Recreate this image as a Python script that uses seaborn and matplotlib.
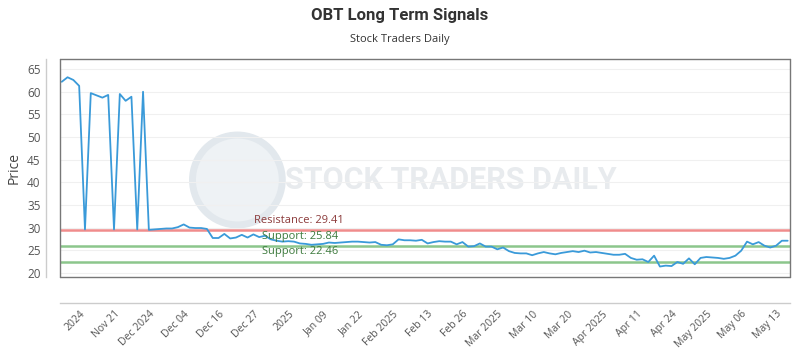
import numpy as np
import pandas as pd
import matplotlib
matplotlib.use("Agg")
import matplotlib.pyplot as plt
from matplotlib.patches import Ellipse
import seaborn as sns

# ---- data ----
prices = [
    62.2, 63.2, 62.6, 61.3, 29.6, 59.7, 59.2, 58.7, 59.3, 29.6,
    59.5, 58.0, 58.9, 29.6, 60.0, 29.5, 29.6, 29.7, 29.8, 29.8,
    30.1, 30.7, 30.0, 29.9, 29.9, 29.7, 27.7, 27.7, 28.6, 27.6,
    27.8, 28.4, 27.8, 28.5, 27.9, 28.2, 27.4, 27.1, 26.9, 27.0,
    26.9, 26.5, 26.4, 26.2, 26.3, 26.4, 26.7, 26.6, 26.7, 26.8,
    26.9, 26.9, 26.8, 26.7, 26.8, 26.2, 26.1, 26.3, 27.4, 27.2,
    27.2, 27.1, 27.3, 26.5, 26.8, 27.0, 26.9, 26.9, 26.3, 26.8,
    25.8, 25.9, 26.5, 25.8, 25.8, 25.2, 25.6, 24.8, 24.4, 24.3,
    24.3, 23.9, 24.3, 24.6, 24.3, 24.1, 24.4, 24.6, 24.8, 24.6,
    24.9, 24.5, 24.6, 24.4, 24.2, 24.0, 24.0, 24.2, 23.3, 22.9,
    23.0, 22.4, 23.8, 21.4, 21.6, 21.5, 22.4, 22.0, 23.2, 21.9,
    23.3, 23.5, 23.4, 23.3, 23.1, 23.3, 23.8, 24.9, 26.9, 26.3,
    26.8, 26.0, 25.6, 26.0, 27.1, 27.1,
]
tick_labels = ["2024", "Nov 21", "Dec 2024", "Dec 04", "Dec 16", "Dec 27",
               "2025", "Jan 09", "Jan 22", "Feb 2025", "Feb 13", "Feb 26",
               "Mar 2025", "Mar 10", "Mar 20", "Apr 2025", "Apr 11", "Apr 24",
               "May 2025", "May 06", "May 13"]
resistance = [29.41]
supports = [25.84, 22.46]

df = pd.DataFrame({"idx": np.arange(len(prices)), "price": prices})

sns.set_theme(style="white")
plt.rcParams["font.family"] = ["Open Sans", "DejaVu Sans"]

fig = plt.figure(figsize=(8, 3.5), dpi=100)
ax = fig.add_axes([0.075, 0.209, 0.9125, 0.622])

# spines first (set_position resets tick settings)
for side in ["top", "right"]:
    ax.spines[side].set_visible(False)
ax.spines["left"].set_position(("outward", 10))
ax.spines["bottom"].set_position(("outward", 19))
for side in ["left", "bottom"]:
    ax.spines[side].set_color("#cccccc")
    ax.spines[side].set_linewidth(1.0)

# watermark
ax.add_patch(Ellipse((0.243, 0.445), 0.123, 0.413, transform=ax.transAxes,
                     facecolor="#eef2f5", edgecolor="#e2e8ed", lw=5, zorder=0))
ax.text(0.308, 0.445, "STOCK TRADERS DAILY", transform=ax.transAxes, fontsize=22,
        color="#e8ebee", fontweight="bold", family="Roboto", va="center", ha="left",
        zorder=0)

# horizontal lines
for r in resistance:
    ax.axhline(r, color="#f08c8c", lw=1.8, zorder=2)
    ax.text(33.1, r + 1.0, f"Resistance: {r:.2f}", color="#8b3a3a", fontsize=8,
            va="bottom", ha="left", zorder=4)
for s in supports:
    ax.axhline(s, color="#8cc68c", lw=1.8, zorder=2)
    ax.text(34.5, s + 1.0, f"Support: {s:.2f}", color="#3d7a3d", fontsize=8,
            va="bottom", ha="left", zorder=4)

sns.lineplot(data=df, x="idx", y="price", ax=ax, color="#3a9ad9", lw=1.3, zorder=3)

ax.set_xlim(-0.3, 125.4)
ax.set_ylim(19.12, 67.2)
ax.set_yticks(np.arange(20, 66, 5))
ax.yaxis.grid(True, color="#f0f0f0", lw=0.8)
ax.set_axisbelow(True)

tick_pos = list(range(3, len(prices), 6))[:len(tick_labels)]
ax.set_xticks(tick_pos)
ax.set_xticklabels(tick_labels, rotation=45, ha="right", rotation_mode="anchor",
                   fontsize=7.5, color="#555555")
ax.tick_params(axis="x", length=0, pad=4)
ax.tick_params(axis="y", length=0, pad=4, labelsize=8.5, labelcolor="#555555")

ax.set_xlabel("")
ax.set_ylabel("Price", fontsize=10, color="#444444", labelpad=4)

# visible box around plot area
for x0, x1, y0, y1 in [(0, 1, 1, 1), (0, 1, 0, 0), (0, 0, 0, 1), (1, 1, 0, 1)]:
    ax.plot([x0, x1], [y0, y1], transform=ax.transAxes, color="#777777", lw=1.0,
            clip_on=False, zorder=5)

fig.text(0.5, 0.955, "OBT Long Term Signals", ha="center", va="center", fontsize=12,
         fontweight="bold", color="#333333", family="Roboto")
fig.text(0.5, 0.887, "Stock Traders Daily", ha="center", va="center", fontsize=8,
         color="#333333")

fig.savefig("out.png", dpi=100, facecolor="white")
